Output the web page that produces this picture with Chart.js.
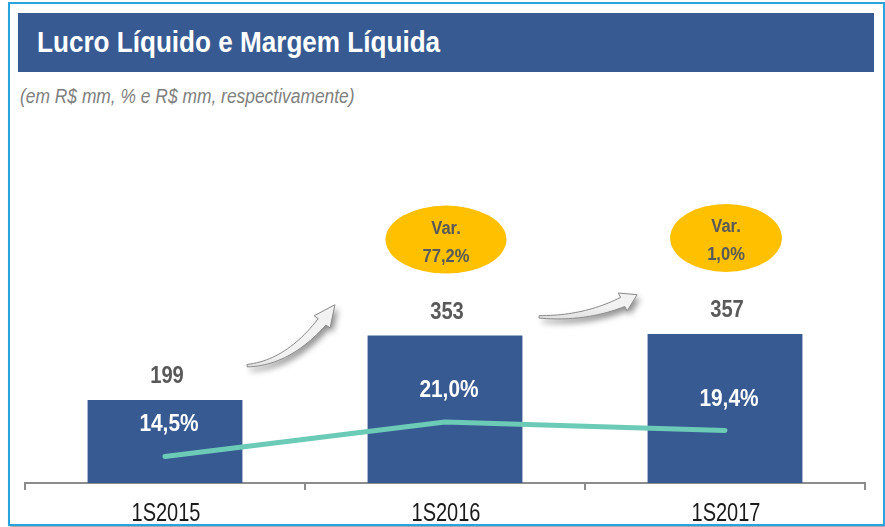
<!DOCTYPE html>
<html>
<head>
<meta charset="utf-8">
<script src="https://cdn.jsdelivr.net/npm/chart.js@4.4.1/dist/chart.umd.min.js"></script>
<style>
  html, body { margin: 0; padding: 0; background: #fff; }
  body { width: 885px; height: 527px; position: relative; overflow: hidden;
         font-family: 'Liberation Sans', Arial, sans-serif; }
  #frame { position: absolute; left: 8px; top: 2px; width: 873px; height: 520px;
           border: 2px solid #29a3dc; box-shadow: 2px 3px 3px rgba(0,0,0,.35); }
  #titleBar { position: absolute; left: 18px; top: 13px; width: 856px; height: 59px; background: #375a92; }
  #title { position: absolute; left: 37px; top: 28px; line-height: 29px; color: #fff;
           font-weight: bold; font-size: 29px; white-space: nowrap;
           transform: scaleX(0.9); transform-origin: 0 0; }
  #subtitle { position: absolute; left: 20px; top: 86px; line-height: 20px; font-style: italic; font-size: 20px;
              color: #7f7f7f; white-space: nowrap; transform: scaleX(0.87); transform-origin: 0 0; }
  #wrap { position: absolute; left: 0; top: 0; width: 885px; height: 527px; }
</style>
</head>
<body>
<div id="frame"></div>
<div id="titleBar"></div>
<div id="title">Lucro Líquido e Margem Líquida</div>
<div id="subtitle">(em R$ mm, % e R$ mm, respectivamente)</div>
<div id="wrap"><canvas id="chart" width="885" height="527"></canvas></div>

<script>
const FONT = "'Liberation Sans', Arial, sans-serif";

// dados
const categories = ["1S2015", "1S2016", "1S2017"];
const lucroLiquido = [199, 353, 357];        // R$ mm
const margemLiquida = [14.5, 21.0, 19.4];    // %
const variacao = [null, "77,2%", "1,0%"];

// setas decorativas: [x (indice), y (R$ mm)] da cauda e da ponta
const arrows = [
  { tail: [0.293, 281], head: [0.607, 427] },
  { tail: [1.336, 398], head: [1.686, 451] }
];

function pct(v) {
  return v.toFixed(1).replace(".", ",") + "%";
}

// texto "narrow": fonte normal comprimida na horizontal
function narrowText(ctx, text, x, y, size, weight, color, sx) {
  ctx.save();
  ctx.font = weight + " " + size + "px " + FONT;
  ctx.fillStyle = color;
  ctx.textAlign = "center";
  ctx.textBaseline = "alphabetic";
  ctx.translate(x, y);
  ctx.scale(sx, 1);
  ctx.fillText(text, 0, 0);
  ctx.restore();
}

function drawArrow(ctx, T, H) {
  const C = [T[0] + (H[0] - T[0]) * 0.55, T[1] + (H[1] - T[1]) * 0.15 + 6];
  const q = (t) => [
    (1 - t) * (1 - t) * T[0] + 2 * (1 - t) * t * C[0] + t * t * H[0],
    (1 - t) * (1 - t) * T[1] + 2 * (1 - t) * t * C[1] + t * t * H[1]
  ];
  const tEnd = 0.84;
  const left = [], right = [];
  const steps = 24;
  for (let i = 0; i <= steps; i++) {
    const t = (i / steps) * tEnd;
    const p = q(t);
    const p2 = q(Math.min(t + 0.01, 1));
    let dx = p2[0] - p[0], dy = p2[1] - p[1];
    const len = Math.hypot(dx, dy) || 1;
    dx /= len; dy /= len;
    const w = 1.2 + 3.8 * (t / tEnd);
    left.push([p[0] - dy * w, p[1] + dx * w]);
    right.push([p[0] + dy * w, p[1] - dx * w]);
  }
  const B = q(tEnd);
  let dx = H[0] - B[0], dy = H[1] - B[1];
  const len = Math.hypot(dx, dy) || 1;
  dx /= len; dy /= len;
  const hw = 10;

  ctx.save();
  ctx.beginPath();
  ctx.moveTo(left[0][0], left[0][1]);
  left.forEach(p => ctx.lineTo(p[0], p[1]));
  ctx.lineTo(B[0] - dy * hw, B[1] + dx * hw);
  ctx.lineTo(H[0], H[1]);
  ctx.lineTo(B[0] + dy * hw, B[1] - dx * hw);
  for (let i = right.length - 1; i >= 0; i--) ctx.lineTo(right[i][0], right[i][1]);
  ctx.closePath();
  ctx.shadowColor = "rgba(0,0,0,0.45)";
  ctx.shadowBlur = 6;
  ctx.shadowOffsetX = 3;
  ctx.shadowOffsetY = 4;
  const g = ctx.createLinearGradient(T[0], T[1] - 10, T[0], T[1] + 10);
  g.addColorStop(0, "#f2f2f2");
  g.addColorStop(1, "#d4d4d4");
  ctx.fillStyle = g;
  ctx.fill();
  ctx.shadowColor = "transparent";
  ctx.strokeStyle = "#8a8a8a";
  ctx.lineWidth = 1;
  ctx.stroke();
  ctx.restore();
}

const labelsPlugin = {
  id: "labels",
  afterDatasetsDraw(chart) {
    const ctx = chart.ctx;
    const xs = chart.scales.x, ys = chart.scales.y;
    const bars = chart.getDatasetMeta(0).data;
    const pts = chart.getDatasetMeta(1).data;

    // setas
    arrows.forEach(a => {
      drawArrow(ctx,
        [xs.getPixelForValue(a.tail[0]), ys.getPixelForValue(a.tail[1])],
        [xs.getPixelForValue(a.head[0]), ys.getPixelForValue(a.head[1])]);
    });

    // valores das barras
    bars.forEach((b, i) => {
      narrowText(ctx, String(lucroLiquido[i]), b.x + 2, b.y - 17, 24, "bold", "#595959", 0.84);
    });

    // margem liquida
    pts.forEach((p, i) => {
      narrowText(ctx, pct(margemLiquida[i]), p.x + 4, p.y - 25, 24, "bold", "#ffffff", 0.87);
    });

    // elipses de variacao
    ctx.save();
    ctx.font = "bold 18px " + FONT;
    bars.forEach((b, i) => {
      if (!variacao[i]) return;
      const cx = b.x + 1, cy = b.y - 96;
      const tw = ctx.measureText(variacao[i]).width * 0.92;
      const rx = tw / 2 + 37, ry = 34;
      ctx.beginPath();
      ctx.ellipse(cx, cy, rx, ry, 0, 0, Math.PI * 2);
      ctx.fillStyle = "#ffc000";
      ctx.fill();
      narrowText(ctx, "Var.", cx, cy - 6, 18, "bold", "#595959", 0.92);
      narrowText(ctx, variacao[i], cx, cy + 22, 18, "bold", "#595959", 0.92);
    });
    ctx.restore();

    // rotulos do eixo x
    const base = chart.chartArea.bottom;
    categories.forEach((c, i) => {
      narrowText(ctx, c, xs.getPixelForValue(i) + 1, base + 38, 25, "normal", "#1a1a1a", 0.8);
    });
  }
};

document.addEventListener("DOMContentLoaded", () => {
  const ctx = document.getElementById("chart").getContext("2d");
  new Chart(ctx, {
    type: "bar",
    data: {
      labels: categories,
      datasets: [
        {
          type: "bar",
          label: "Lucro Líquido",
          data: lucroLiquido,
          backgroundColor: "#375a92",
          categoryPercentage: 1,
          barPercentage: 0.553,
          yAxisID: "y",
          order: 2
        },
        {
          type: "line",
          label: "Margem Líquida",
          data: margemLiquida,
          borderColor: "#6ccbb6",
          borderWidth: 5,
          borderCapStyle: "round",
          borderJoinStyle: "round",
          pointRadius: 0,
          tension: 0,
          yAxisID: "y1",
          order: 1
        }
      ]
    },
    options: {
      responsive: false,
      animation: false,
      layout: { padding: { left: 25, right: 20, top: 149, bottom: 0 } },
      plugins: {
        legend: { display: false },
        tooltip: { enabled: false }
      },
      scales: {
        x: {
          offset: true,
          grid: {
            display: true,
            offset: true,
            drawOnChartArea: false,
            drawTicks: true,
            tickLength: 7,
            color: "#8c8c8c",
            lineWidth: 2
          },
          border: { display: true, color: "#8c8c8c", width: 2 },
          ticks: { display: false },
          afterFit(scale) { scale.height = 44; }
        },
        y: { display: false, min: 0, max: 800 },
        y1: { display: false, min: 9.5, max: 72.5 }
      }
    },
    plugins: [labelsPlugin]
  });
});
</script>
</body>
</html>
